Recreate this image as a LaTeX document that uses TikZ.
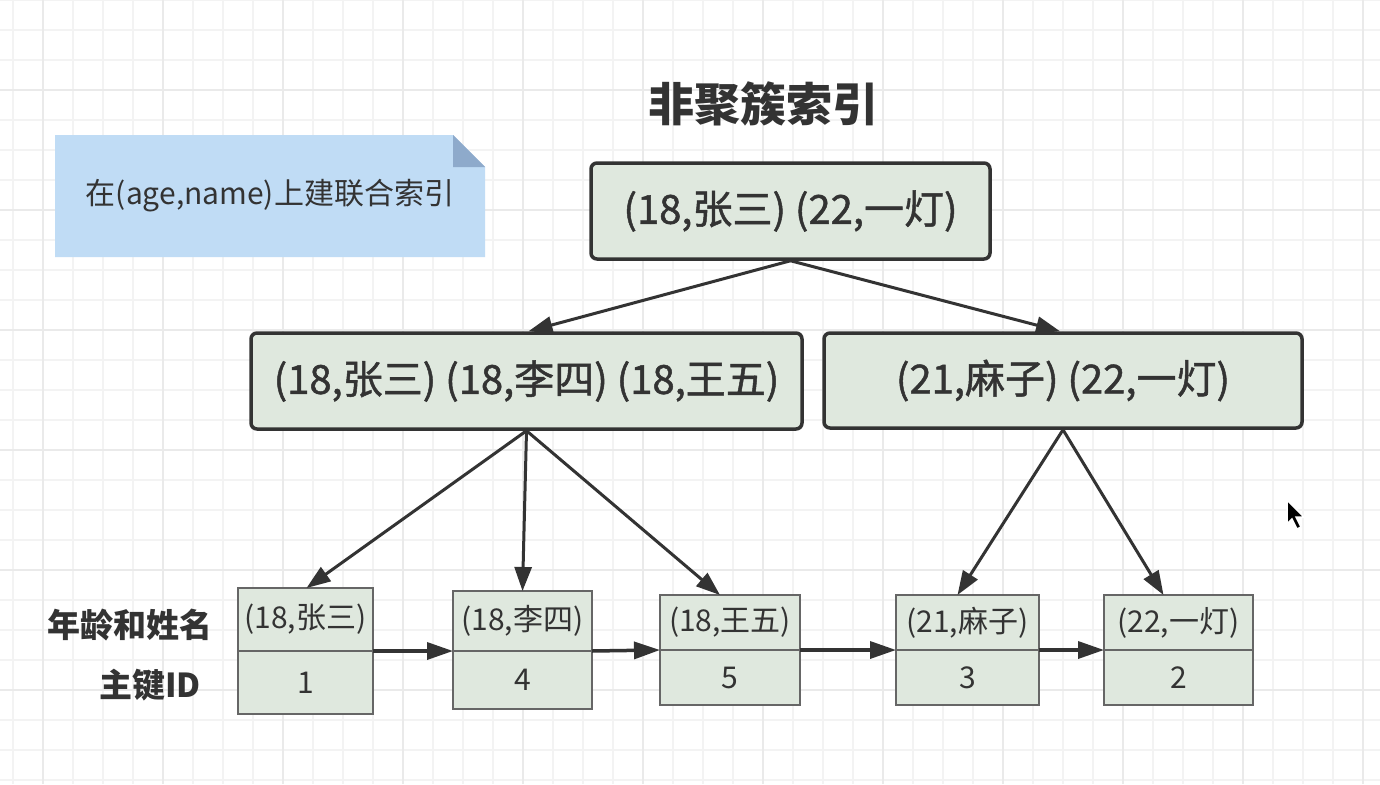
\documentclass[tikz,border=0pt]{standalone}
\usepackage{fontspec}
\setmainfont{Noto Sans CJK SC}
\newfontfamily\boxfont{Noto Sans CJK SC}[FakeBold=1.2]
\usepackage{xcolor}
\definecolor{gridminor}{RGB}{243,243,243}
\definecolor{gridmajor}{RGB}{234,234,234}
\definecolor{boxfill}{RGB}{223,232,222}
\definecolor{boxline}{RGB}{51,51,51}
\definecolor{leafline}{RGB}{102,102,102}
\definecolor{notefill}{RGB}{192,220,245}
\definecolor{notefold}{RGB}{142,170,203}
\definecolor{textdark}{RGB}{51,51,51}
\usepackage{tikz}
\usetikzlibrary{arrows.meta}
\usetikzlibrary{positioning}
\tikzset{
    inner/.style={draw=boxline, line width=3.5pt, rounded corners=6pt, fill=boxfill, text=textdark,
        font=\boxfont\fontsize{40}{46}\selectfont, minimum height=96pt},
    leaf/.style={draw=leafline, line width=2pt, fill=boxfill, text=textdark, outer sep=0pt,
        inner sep=0pt, font=\fontsize{30}{34}\selectfont},
    treearrow/.style={-{Triangle[length=24pt,width=17pt]}, draw=boxline, line width=3pt},
    listarrow/.style={-{Triangle[length=26pt,width=17pt]}, draw=boxline, line width=3.5pt},
    rowlabel/.style={text=textdark, font=\fontsize{33}{38}\selectfont\bfseries},
    gridline/.style={gridminor, line width=1.2pt},
    gridbold/.style={gridmajor, line width=1.6pt}
}

\begin{document}
\begin{tikzpicture}[x=1pt, y=-1pt]
    \useasboundingbox (0,0) rectangle (1380,784);
    \fill[white] (0,0) rectangle (1380,784);

    % background grid
    \foreach \gx in {13,43,...,1373} \draw[gridline] (\gx,0) -- (\gx,784);
    \foreach \gy in {0,30,...,780} \draw[gridline] (0,\gy) -- (1380,\gy);
    \foreach \gx in {43,163,...,1363} \draw[gridbold] (\gx,0) -- (\gx,784);
    \foreach \gy in {90,210,...,690} \draw[gridbold] (0,\gy) -- (1380,\gy);

    \node[text=textdark, font=\fontsize{46}{52}\selectfont\bfseries] (title) at (763,104) {非聚簇索引};

    % note
    \fill[notefill] (55,135) -- (453,135) -- (485,167) -- (485,257) -- (55,257) -- cycle;
    \fill[notefold] (453,135) -- (485,167) -- (453,167) -- cycle;
    \node[text=textdark, font=\fontsize{30}{34}\selectfont] (note) at (270,196) {在(age,name)上建联合索引};

    \node[inner, minimum width=399pt] (root) at (790.5,211) {(18,张三) (22,一灯)};
    \node[inner, minimum width=551pt] (lmid) at (526.5,381) {(18,张三) (18,李四) (18,王五)};
    \node[inner, minimum width=478pt, minimum height=95pt] (rmid) at (1063,380.5) {(21,麻子) (22,一灯)};

    % leaves: key part on top, primary key below
    \foreach \n/\lx/\ly/\lw/\hk/\hi/\key/\id in {
        1/238/588/135/63/63/{(18,张三)}/1,
        2/453/591/139/60/58/{(18,李四)}/4,
        3/660/595/140/55/55/{(18,王五)}/5,
        4/896/595/143/55/55/{(21,麻子)}/3,
        5/1104/595/149/55/55/{(22,一灯)}/2} {
        \node[leaf, anchor=north west, minimum width=\lw pt, minimum height=\hk pt] (k\n) at (\lx,\ly) {\key};
        \node[leaf, below=0pt of k\n, minimum width=\lw pt, minimum height=\hi pt] (id\n) {\id};
    }

    \node[rowlabel] (keylabel) at (130,625) {年龄和姓名};
    \node[rowlabel] (idlabel) at (150,685) {主键ID};

    \draw[treearrow] (root.south) -- ([xshift=2pt]lmid.north);
    \draw[treearrow] (root.south) -- ([xshift=-3pt]rmid.north);
    \draw[treearrow] (lmid.south) -- ([xshift=1pt]k1.north);
    \draw[treearrow] (lmid.south) -- (k2.north);
    \draw[treearrow] (lmid.south) -- ([xshift=-10pt]k3.north);
    \draw[treearrow] (rmid.south) -- ([xshift=-10pt]k4.north);
    \draw[treearrow] (rmid.south) -- ([xshift=-15pt]k5.north);

    \draw[listarrow] (k1.south east) -- (k2.south west);
    \draw[listarrow] (k2.south east) -- (k3.south west);
    \draw[listarrow] (k3.south east) -- (k4.south west);
    \draw[listarrow] (k4.south east) -- (k5.south west);

    % mouse pointer
    \filldraw[fill=black, draw=white, line width=1.5pt] (1287,500) -- ++(0,24) -- ++(5,-5)
        -- ++(5,10) -- ++(4,-2) -- ++(-5,-10) -- ++(8,0) -- cycle;
\end{tikzpicture}
\end{document}
